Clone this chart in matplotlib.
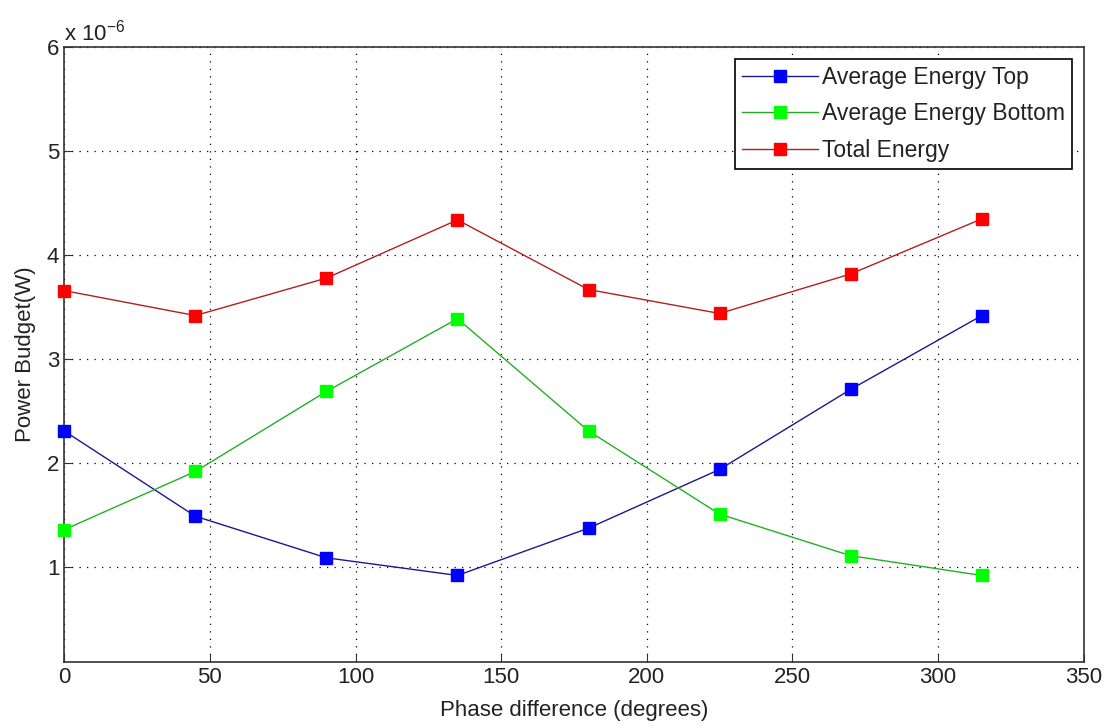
import matplotlib
matplotlib.use("Agg")
import matplotlib.pyplot as plt

plt.rcParams["font.family"] = ["Liberation Sans", "DejaVu Sans"]

phase = [0, 45, 90, 135, 180, 225, 270, 315]
energy_top = [2.31, 1.49, 1.09, 0.92, 1.375, 1.94, 2.71, 3.42]
energy_bottom = [1.36, 1.92, 2.69, 3.39, 2.31, 1.51, 1.11, 0.92]
energy_total = [3.66, 3.42, 3.78, 4.34, 3.67, 3.44, 3.82, 4.35]
scale = 1e-6

fig = plt.figure(figsize=(11.07, 7.28), dpi=100)
ax = fig.add_axes([0.058, 0.091, 0.921, 0.844])

series = [
    (energy_top, "Average Energy Top", "#1a1a8c", "#0000ff"),
    (energy_bottom, "Average Energy Bottom", "#22b022", "#00ff00"),
    (energy_total, "Total Energy", "#b02020", "#ff0000"),
]
for vals, lab, lc, mc in series:
    ax.plot(phase, [v * scale for v in vals], color=lc, lw=1.0, marker="s",
            ms=8.5, mfc=mc, mec=mc, label=lab, clip_on=False, zorder=3)

ax.set_xlim(0, 350)
ax.set_ylim(0.09e-6, 6e-6)
ax.set_xticks(range(0, 351, 50))
ax.set_yticks([v * scale for v in range(1, 7)])
ax.set_yticklabels([str(v) for v in range(1, 7)])
ax.grid(True, ls=(0, (1, 5)), color="black", lw=0.9)
ax.tick_params(direction="in", labelsize=16, length=6, colors="#333333",
               labelcolor="#222222")
for s in ax.spines.values():
    s.set_color("#333333")
    s.set_linewidth(1.2)
ax.set_xlabel("Phase difference (degrees)", fontsize=16, labelpad=9,
              color="#222222")
ax.set_ylabel("Power Budget(W)", fontsize=16, labelpad=8, color="#222222")
ax.text(0.0, 1.003, r"x 10$^{\mathregular{-6}}$", transform=ax.transAxes,
        fontsize=16, ha="left", va="bottom", color="#222222")

leg = ax.legend(loc="upper right", fontsize=16.5, fancybox=False, framealpha=1,
                edgecolor="black", borderaxespad=0.5, handlelength=3.3,
                labelspacing=0.6, handletextpad=0.2, borderpad=0.3)
leg.get_frame().set_linewidth(1.2)
for t in leg.get_texts():
    t.set_color("#222222")

fig.savefig("out.png", dpi=100)
